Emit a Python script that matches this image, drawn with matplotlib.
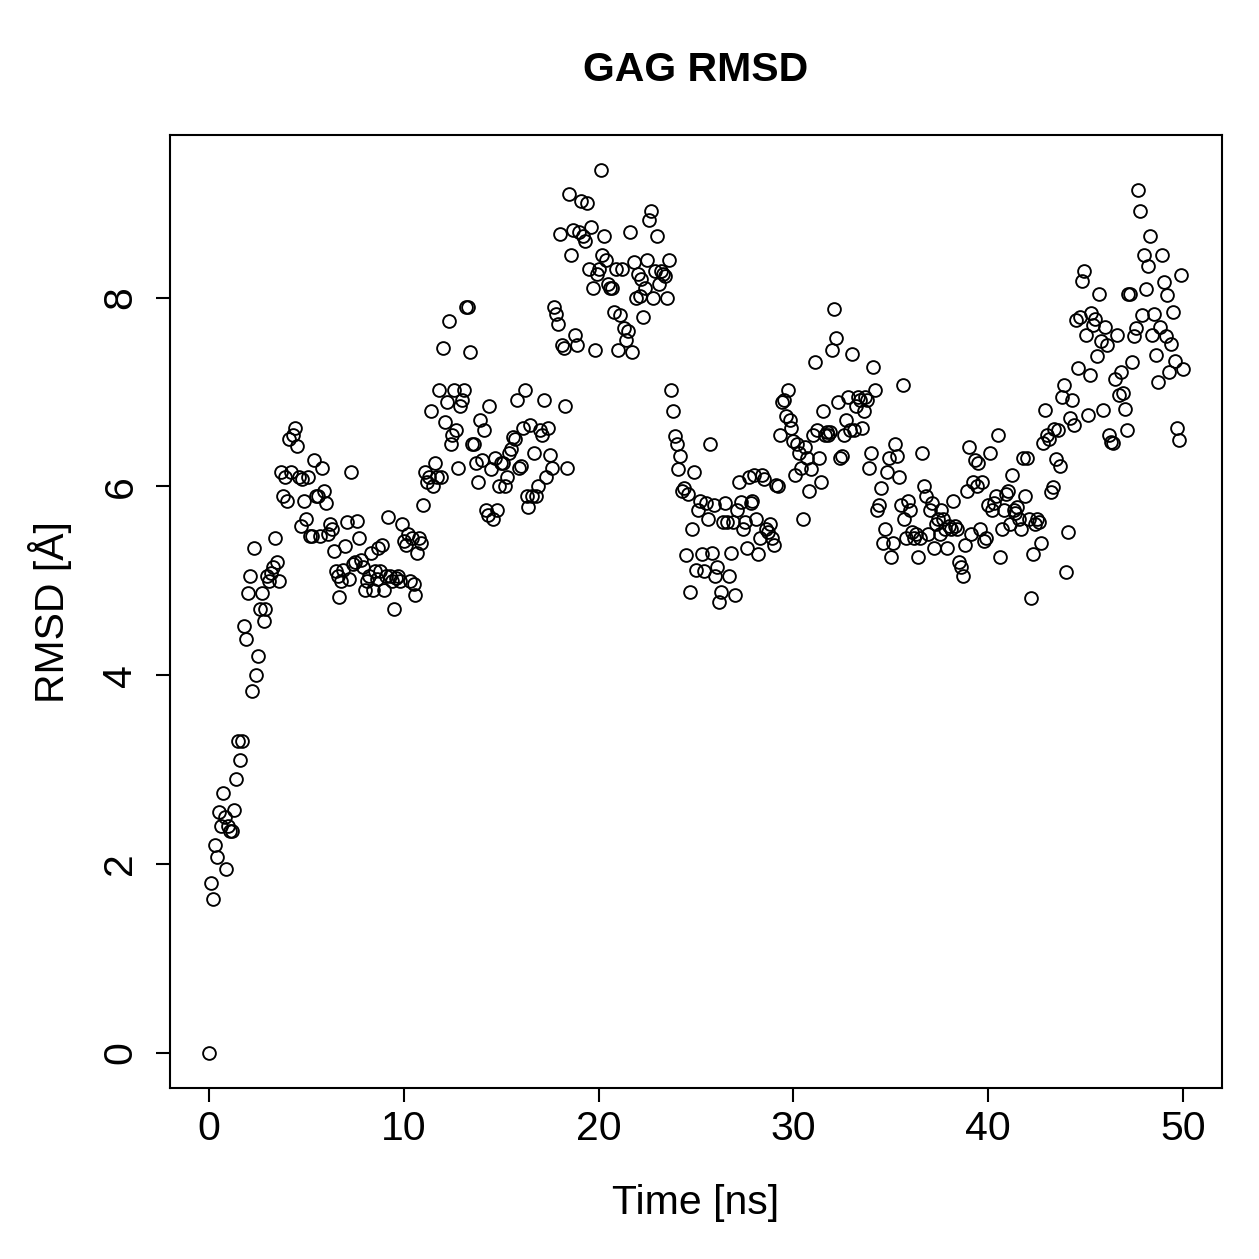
import numpy as np
import matplotlib
matplotlib.use("Agg")
import matplotlib.pyplot as plt

plt.rcParams['font.family'] = ['Liberation Sans', 'DejaVu Sans']

# RMSD values (Å), one per 0.1 ns frame, grouped by 1-ns blocks
rmsd_blocks = [
    [0.0, 1.8, 1.63, 2.2, 2.07, 2.55, 2.4, 2.75, 2.5, 1.95],
    [2.4, 2.35, 2.35, 2.57, 2.9, 3.3, 3.1, 3.3, 4.52, 4.38],
    [4.87, 5.05, 3.83, 5.35, 4.0, 4.2, 4.7, 4.87, 4.57, 4.7],
    [5.05, 5.0, 5.08, 5.15, 5.45, 5.2, 5.0, 6.15, 5.9, 6.1],
    [5.85, 6.5, 6.15, 6.55, 6.62, 6.43, 6.1, 5.58, 6.08, 5.85],
    [5.65, 6.1, 5.48, 5.48, 6.28, 5.9, 5.9, 5.48, 6.2, 5.95],
    [5.82, 5.5, 5.6, 5.55, 5.32, 5.1, 5.05, 4.83, 5.0, 5.12],
    [5.37, 5.62, 5.02, 6.15, 5.18, 5.2, 5.63, 5.45, 5.22, 5.15],
    [4.9, 5.0, 5.05, 5.3, 4.9, 5.1, 5.02, 5.35, 5.1, 5.38],
    [4.9, 5.05, 5.68, 5.05, 5.0, 4.7, 5.03, 5.05, 5.0, 5.6],
    [5.42, 5.38, 5.5, 5.0, 5.45, 4.97, 4.85, 5.3, 5.45, 5.4],
    [5.8, 6.15, 6.05, 6.1, 6.8, 6.0, 6.25, 6.1, 7.02, 6.1],
    [7.47, 6.68, 6.9, 7.75, 6.45, 6.55, 7.02, 6.6, 6.2, 6.85],
    [6.92, 7.02, 7.9, 7.9, 7.42, 6.45, 6.45, 6.25, 6.05, 6.7],
    [6.28, 6.6, 5.75, 5.7, 6.85, 6.18, 5.65, 6.3, 5.75, 6.0],
    [6.25, 6.25, 6.0, 6.1, 6.35, 6.4, 6.52, 6.5, 6.92, 6.2],
    [6.22, 6.62, 7.02, 5.9, 5.78, 6.65, 5.9, 6.35, 5.9, 6.0],
    [6.6, 6.55, 6.92, 6.1, 6.62, 6.33, 6.2, 7.9, 7.83, 7.72],
    [8.67, 7.5, 7.47, 6.85, 6.2, 9.1, 8.45, 8.72, 7.6, 7.5],
    [8.7, 9.02, 8.65, 8.6, 9.0, 8.3, 8.75, 8.1, 7.45, 8.25],
    [8.3, 9.35, 8.45, 8.65, 8.4, 8.15, 8.1, 8.1, 7.85, 8.3],
    [7.45, 7.82, 8.3, 7.68, 7.55, 7.65, 8.7, 7.42, 8.38, 8.0],
    [8.25, 8.02, 8.2, 7.8, 8.1, 8.4, 8.82, 8.92, 8.0, 8.28],
    [8.65, 8.15, 8.28, 8.25, 8.23, 8.0, 8.4, 7.02, 6.8, 6.53],
    [6.45, 6.18, 6.32, 5.95, 5.98, 5.27, 5.92, 4.88, 5.55, 6.15],
    [5.12, 5.75, 5.85, 5.28, 5.1, 5.82, 5.65, 6.45, 5.3, 5.8],
    [5.05, 5.15, 4.78, 4.88, 5.62, 5.82, 5.62, 5.05, 5.3, 5.62],
    [4.85, 5.75, 6.05, 5.83, 5.55, 5.62, 5.35, 6.1, 5.82, 5.85],
    [6.12, 5.65, 5.28, 5.45, 6.12, 6.08, 5.55, 5.52, 5.6, 5.45],
    [5.38, 6.02, 6.0, 6.55, 6.9, 6.92, 6.75, 7.02, 6.7, 6.62],
    [6.48, 6.12, 6.45, 6.35, 6.2, 5.65, 6.42, 6.3, 5.95, 6.18],
    [6.55, 7.32, 6.6, 6.3, 6.05, 6.8, 6.55, 6.58, 6.55, 6.58],
    [7.45, 7.88, 7.57, 6.9, 6.3, 6.32, 6.55, 6.7, 6.95, 6.6],
    [7.4, 6.6, 6.85, 6.95, 6.92, 6.62, 6.8, 6.95, 6.92, 6.2],
    [6.35, 7.27, 7.02, 5.75, 5.8, 5.98, 5.4, 5.55, 6.15, 6.3],
    [5.25, 5.4, 6.45, 6.32, 6.1, 5.8, 7.07, 5.65, 5.45, 5.85],
    [5.75, 5.52, 5.45, 5.5, 5.25, 5.45, 6.35, 6.0, 5.9, 5.5],
    [5.75, 5.82, 5.35, 5.6, 5.65, 5.5, 5.75, 5.65, 5.55, 5.35],
    [5.58, 5.55, 5.85, 5.58, 5.55, 5.2, 5.15, 5.05, 5.38, 5.95],
    [6.42, 5.5, 6.05, 6.28, 6.0, 6.25, 5.55, 6.05, 5.42, 5.45],
    [5.8, 6.35, 5.75, 5.82, 5.9, 6.55, 5.25, 5.55, 5.75, 5.92],
    [5.95, 5.6, 6.12, 5.75, 5.72, 5.78, 5.65, 5.55, 6.3, 5.9],
    [6.3, 5.65, 4.82, 5.28, 5.6, 5.65, 5.62, 5.4, 6.46, 6.81],
    [6.54, 6.5, 5.94, 5.99, 6.61, 6.29, 6.6, 6.22, 6.95, 7.08],
    [5.09, 5.52, 6.73, 6.92, 6.65, 7.76, 7.26, 7.8, 8.18, 8.28],
    [7.61, 6.76, 7.18, 7.84, 7.71, 7.77, 7.38, 8.04, 7.54, 6.81],
    [7.69, 7.5, 6.54, 6.47, 6.46, 7.14, 7.6, 6.97, 7.21, 6.99],
    [6.82, 6.6, 8.04, 8.04, 7.32, 7.59, 7.68, 9.14, 8.92, 7.82],
    [8.45, 8.09, 8.34, 8.65, 7.61, 7.83, 7.39, 7.11, 7.69, 8.45],
    [8.17, 7.59, 8.03, 7.21, 7.51, 7.85, 7.33, 6.62, 6.49, 8.24],
    [7.24],
]
rmsd = np.array([v for block in rmsd_blocks for v in block])
time_ns = np.arange(len(rmsd)) * 0.1

x_ticks = [0, 10, 20, 30, 40, 50]
y_ticks = [0, 2, 4, 6, 8]

W = H = 1259
FS = 29.5
fig = plt.figure(figsize=(W / 100, H / 100), dpi=100)
ax = fig.add_axes([170 / W, 1 - 1088 / H, 1052 / W, 953 / H])

ax.plot(time_ns, rmsd, linestyle='none', marker='o', markersize=9.2,
        markerfacecolor='none', markeredgecolor='black', markeredgewidth=1.35)

ax.set_xlim(-2, 52)
ax.set_ylim(-0.374, 9.724)
ax.set_xticks(x_ticks)
ax.set_yticks(y_ticks)
for s in ax.spines.values():
    s.set_linewidth(1.5)
ax.tick_params(axis='both', direction='out', length=10, width=1.5,
               labelsize=FS)
ax.tick_params(axis='x', pad=6)
ax.tick_params(axis='y', pad=12)
for lab in ax.get_yticklabels():
    lab.set_rotation(90)
    lab.set_va('center')

fig.text(696 / W, 1 - 1203 / H, 'Time [ns]', ha='center', va='center',
         fontsize=FS)
fig.text(50 / W, 1 - 612 / H, 'RMSD [Å]', ha='center', va='center',
         rotation=90, fontsize=FS)
fig.text(696 / W, 1 - 70 / H, 'GAG RMSD', ha='center', va='center',
         fontsize=FS, fontweight='bold')

fig.savefig('out.png', dpi=100)
